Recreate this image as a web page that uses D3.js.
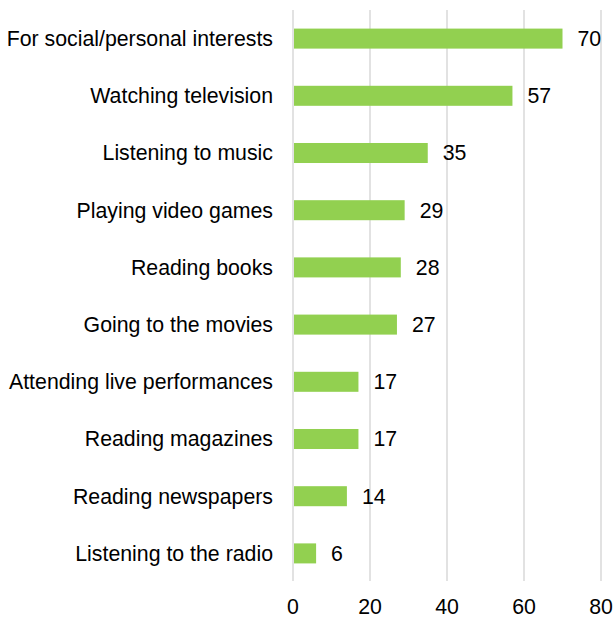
<!DOCTYPE html>
<html>
<head>
<meta charset="utf-8">
<script src="https://cdn.jsdelivr.net/npm/d3@7"></script>
<style>
body{margin:0;background:#fff;}
text{font-family:"Liberation Sans",Arial,sans-serif;fill:#000;}
</style>
</head>
<body>
<script>
var categories=["For social/personal interests","Watching television","Listening to music","Playing video games","Reading books","Going to the movies","Attending live performances","Reading magazines","Reading newspapers","Listening to the radio"];
var values=[70,57,35,29,28,27,17,17,14,6];
var tickValues=[0,20,40,60,80];

var width=613,height=618;
var svg=d3.select("body").append("svg")
    .attr("width",width)
    .attr("height",height);

var x=d3.scaleLinear().domain([0,80]).range([293,601]);
var y=d3.scaleBand().domain(categories).range([10,582]).paddingInner(0.65).paddingOuter(0.325);

// gridlines
svg.selectAll("line.grid")
    .data(tickValues)
    .enter().append("line")
    .attr("class","grid")
    .attr("x1",x).attr("x2",x)
    .attr("y1",10).attr("y2",581)
    .attr("stroke","#d9d9d9")
    .attr("stroke-width",1.5);

svg.selectAll("rect")
    .data(values)
    .enter().append("rect")
    .attr("x",x(0)+1)
    .attr("y",function(d,i){return y(categories[i]);})
    .attr("width",function(d){return x(d)-x(0)-1;})
    .attr("height",y.bandwidth())
    .attr("fill","#92d050");

svg.selectAll("text.val")
    .data(values)
    .enter().append("text")
    .attr("class","val")
    .attr("x",function(d){return x(d)+15;})
    .attr("y",function(d,i){return y(categories[i])+y.bandwidth()/2;})
    .attr("dy","0.35em")
    .style("font-size","21.3px")
    .text(function(d){return d;});

svg.selectAll("text.cat")
    .data(categories)
    .enter().append("text")
    .attr("class","cat")
    .attr("x",273)
    .attr("y",function(d){return y(d)+y.bandwidth()/2;})
    .attr("dy","0.35em")
    .attr("text-anchor","end")
    .style("font-size","21.3px")
    .text(function(d){return d;});

svg.selectAll("text.tick")
    .data(tickValues)
    .enter().append("text")
    .attr("class","tick")
    .attr("x",x)
    .attr("y",607)
    .attr("dy","0.35em")
    .attr("text-anchor","middle")
    .style("font-size","21.3px")
    .text(function(d){return d;});
</script>
</body>
</html>
